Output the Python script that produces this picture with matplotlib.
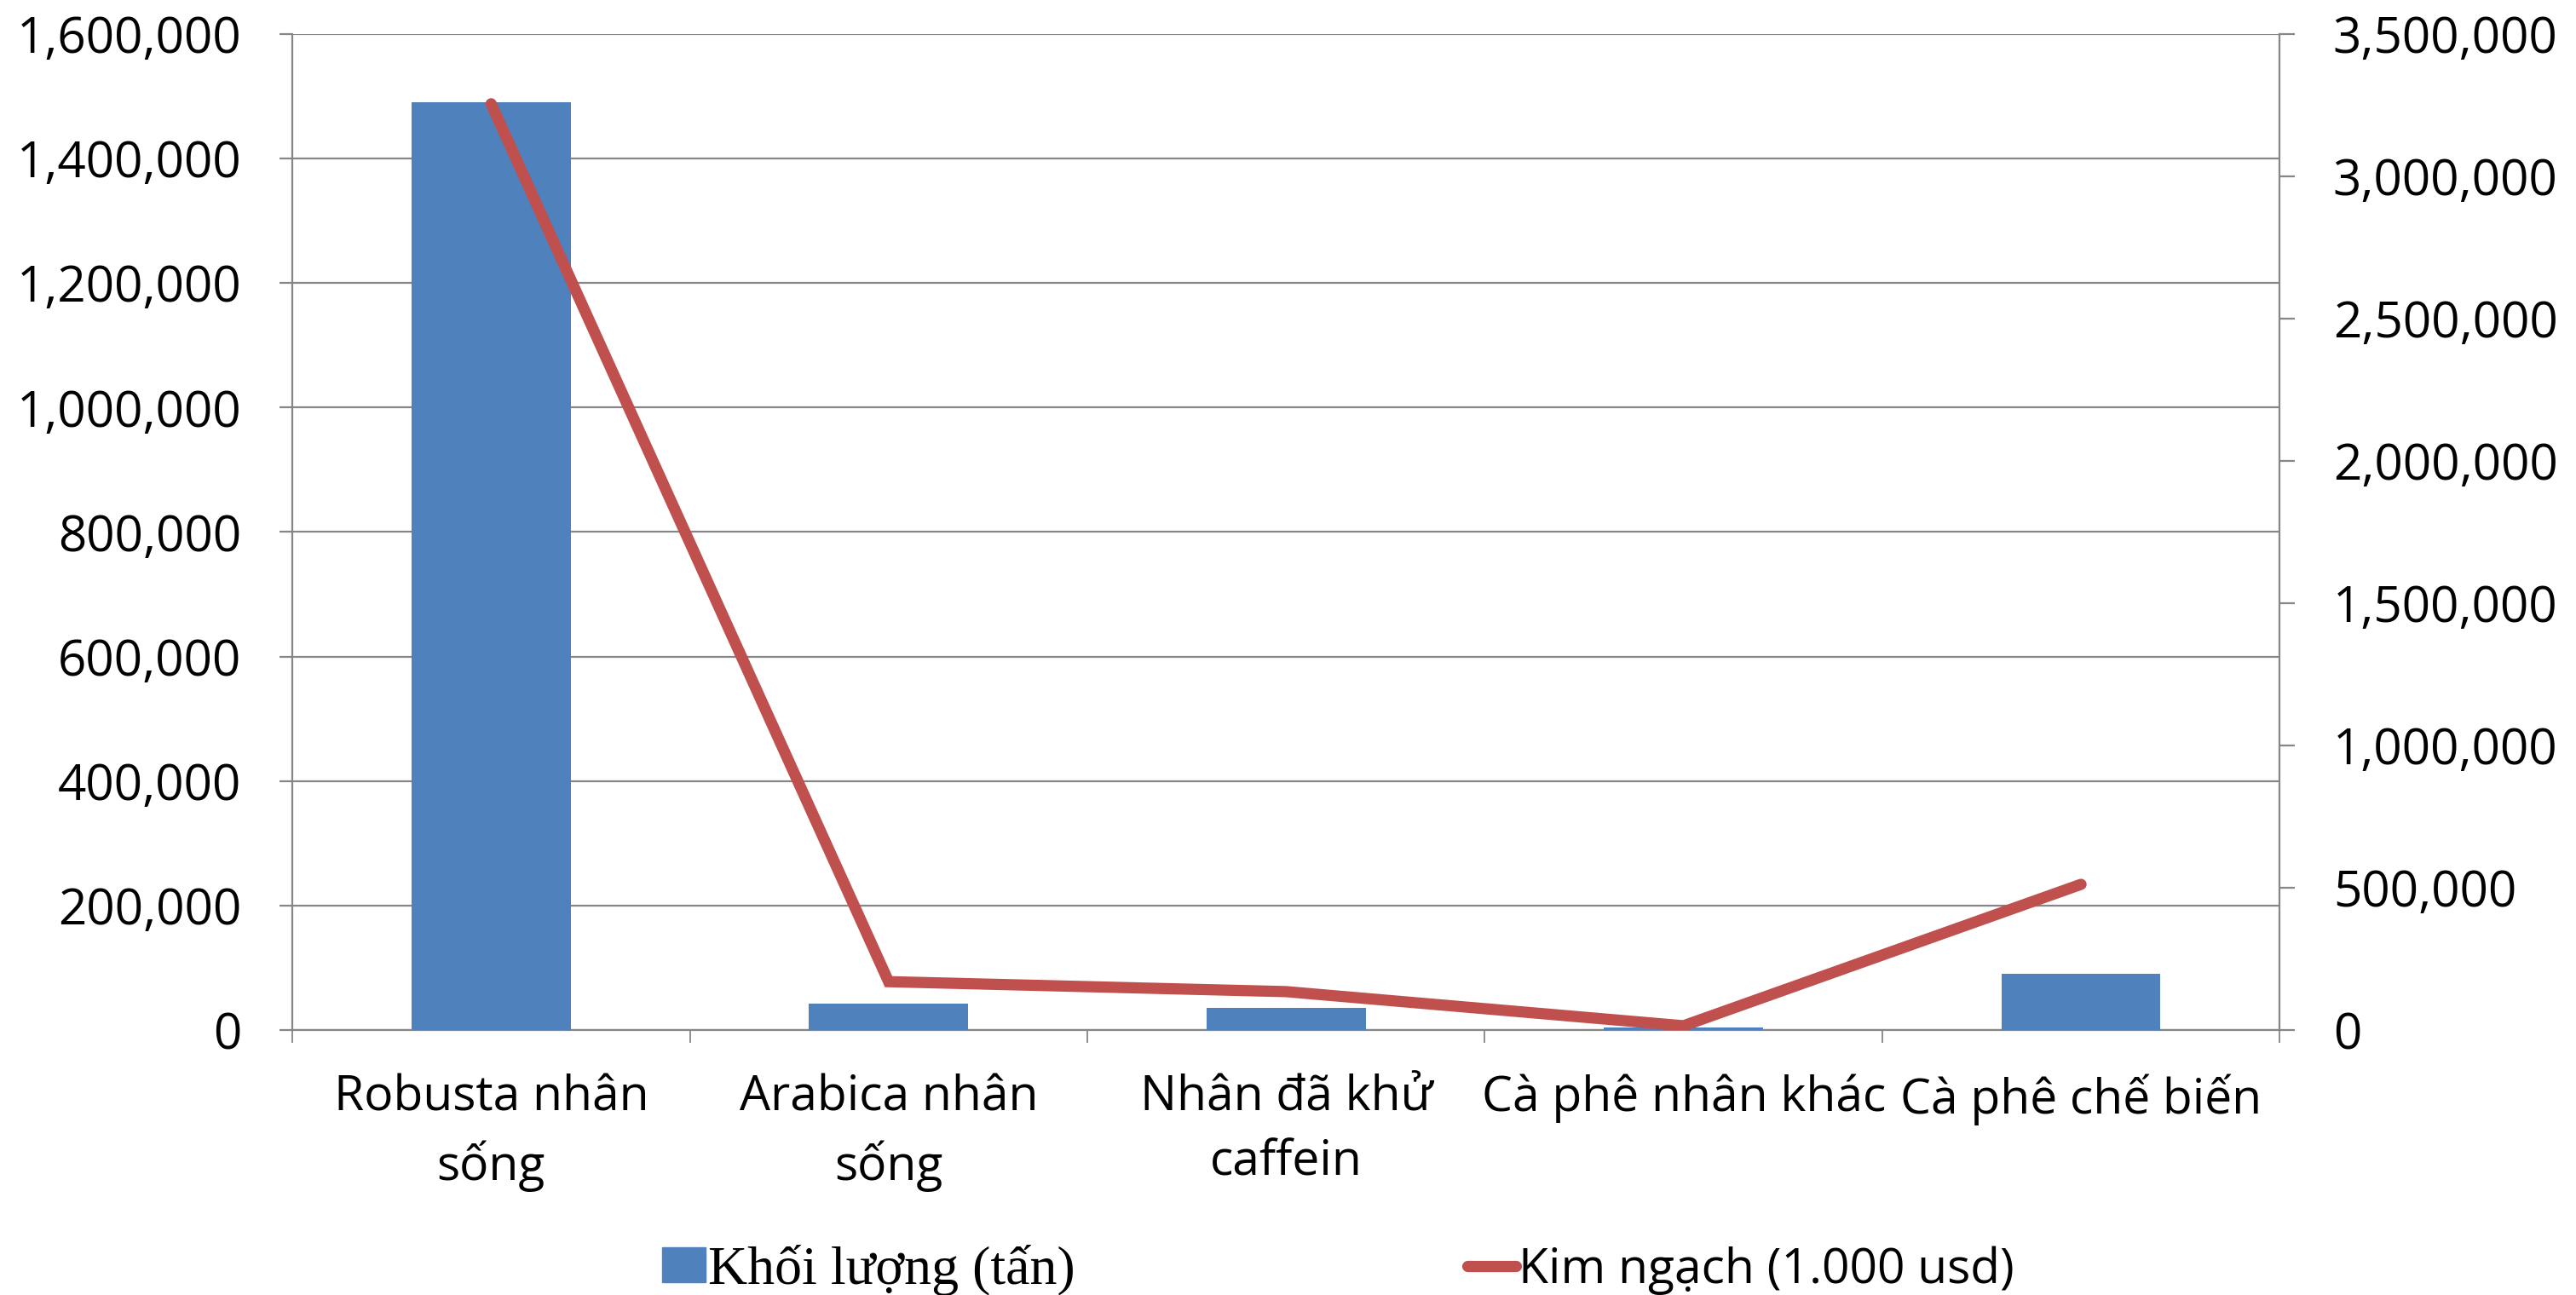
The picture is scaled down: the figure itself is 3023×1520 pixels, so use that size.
import matplotlib
matplotlib.use("Agg")
from matplotlib import pyplot as plt
from matplotlib import ticker as mtick
from matplotlib.patches import Patch
from matplotlib.lines import Line2D
import numpy as np

categories = ["Robusta nhân\nsống", "Arabica nhân\nsống", "Nhân đã khử\ncaffein",
              "Cà phê nhân khác", "Cà phê chế biến"]
khoi_luong = [1490000, 43000, 35000, 4000, 90000]      # tấn
kim_ngach = [3255000, 170000, 135000, 15000, 512000]    # 1.000 usd

BAR_COLOR = "#4F81BD"
LINE_COLOR = "#C0504D"
GRID_COLOR = "#868686"

plt.rcParams['font.family'] = ['Open Sans', 'DejaVu Sans']

fig = plt.figure(figsize=(30.23, 15.2), dpi=100)
ax = fig.add_axes([0.1135, 0.2046, 0.885 - 0.1135, 0.9737 - 0.2046])
x = np.arange(len(categories))

ax.bar(x, khoi_luong, width=0.4, color=BAR_COLOR, zorder=3)
ax.set_xlim(-0.5, len(categories) - 0.5)
ax.set_ylim(0, 1600000)
ax.yaxis.set_major_locator(mtick.MultipleLocator(200000))
ax.yaxis.set_major_formatter(mtick.StrMethodFormatter('{x:,.0f}'))
ax.grid(axis='y', color=GRID_COLOR, linewidth=1.6, zorder=0)

# category boundaries as ticks, labels in the middle
ax.set_xticks(np.arange(-0.5, len(categories)), labels=[])
ax.set_xticks(x, labels=categories, minor=True)
ax.tick_params(axis='x', which='major', length=11, width=1.3, color=GRID_COLOR)
ax.tick_params(axis='x', which='minor', length=0, pad=37, labelsize=41)
for lbl in ax.get_xticklabels(minor=True):
    lbl.set_linespacing(1.45)
ax.tick_params(axis='y', length=11, width=1.6, color=GRID_COLOR, pad=32, labelsize=42)

for s in ["top", "right"]:
    ax.spines[s].set_visible(False)
for s in ["left", "bottom"]:
    ax.spines[s].set_color(GRID_COLOR)
    ax.spines[s].set_linewidth(1.6)

ax2 = ax.twinx()
ax2.plot(x, kim_ngach, color=LINE_COLOR, linewidth=9.5, solid_capstyle='round',
         solid_joinstyle='miter', zorder=4)
ax2.set_ylim(0, 3500000)
ax2.yaxis.set_major_locator(mtick.MultipleLocator(500000))
ax2.yaxis.set_major_formatter(mtick.StrMethodFormatter('{x:,.0f}'))
ax2.tick_params(axis='y', length=13, width=1.6, color=GRID_COLOR, pad=32, labelsize=42)
for s in ["top", "left", "bottom"]:
    ax2.spines[s].set_visible(False)
ax2.spines["right"].set_color(GRID_COLOR)
ax2.spines["right"].set_linewidth(1.6)

# legend, two separate entries spread along the bottom
leg1 = fig.legend(handles=[Patch(color=BAR_COLOR)], labels=["Khối lượng (tấn)"],
                  loc='center left', bbox_to_anchor=(0.257, 0.019), frameon=False,
                  borderpad=0, borderaxespad=0, handlelength=0.8, handleheight=0.6,
                  handletextpad=0.05, prop={'family': 'Liberation Serif', 'size': 46})
leg2 = fig.legend(handles=[Line2D([], [], color=LINE_COLOR, linewidth=9.5,
                                  solid_capstyle='round')],
                  labels=["Kim ngạch (1.000 usd)"],
                  loc='center left', bbox_to_anchor=(0.5696, 0.019), frameon=False,
                  borderpad=0, borderaxespad=0, handlelength=1.0,
                  handletextpad=0.05, prop={'family': 'Open Sans', 'size': 41})

fig.savefig("out.png", dpi=100)
